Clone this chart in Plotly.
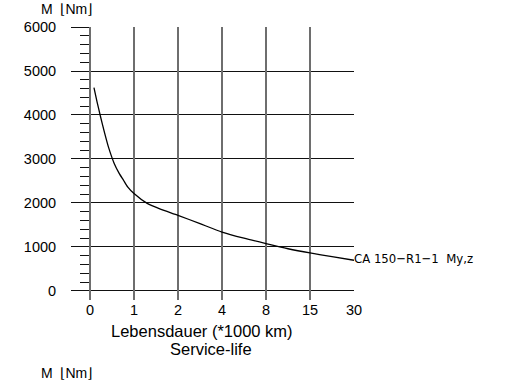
import plotly.graph_objects as go

# Category positions on the x axis (index) and their labels
x_tickvals = [0, 1, 2, 3, 4, 5, 6]
x_ticktext = ["0", "1", "2", "4", "8", "15", "30"]
y_major = [0, 1000, 2000, 3000, 4000, 5000, 6000]
y_small_ticks = list(range(0, 6001, 200))
y_small_text = [str(v) if v % 1000 == 0 else "" for v in y_small_ticks]

# Curve (x in axis index units, y in Nm)
curve_x = [0.09, 0.16, 0.23, 0.33, 0.42, 0.55, 0.66, 0.76, 0.86, 1.0, 1.3, 1.6,
           2.0, 2.5, 3.0, 3.5, 4.0, 4.5, 5.0, 5.5, 6.0]
curve_y = [4620, 4300, 4000, 3600, 3270, 2900, 2680, 2520, 2360, 2214, 1990, 1860,
           1720, 1530, 1340, 1200, 1077, 960, 864, 780, 698]

series_label = "CA 150−R1−1  My,z"
unit_label = "M  ⌊Nm⌋"
x_title_1 = "Lebensdauer (*1000 km)"
x_title_2 = "Service-life"

FONT = "Liberation Sans, Arial, sans-serif"

fig = go.Figure()
fig.add_trace(go.Scatter(
    x=curve_x, y=curve_y, mode="lines",
    line=dict(color="black", width=1.3, shape="spline", smoothing=0.6),
    hoverinfo="skip", showlegend=False,
))

fig.update_layout(
    width=513, height=387,
    margin=dict(l=72, r=159, t=27, b=87.3, pad=0),
    paper_bgcolor="white", plot_bgcolor="white",
    font=dict(family=FONT, size=14, color="black"),
    showlegend=False,
)

fig.update_xaxes(
    range=[-0.409, 6],
    tickmode="array", tickvals=x_tickvals, ticktext=x_ticktext,
    showgrid=True, gridcolor="#6e6e6e", gridwidth=2,
    zeroline=False, showline=False, ticks="",
    tickfont=dict(size=14.5), ticklabelstandoff=-1,
)

fig.update_yaxes(
    range=[-205, 6000],
    tickmode="array", tickvals=y_small_ticks, ticktext=y_small_text,
    showgrid=False,
    zeroline=False,
    anchor="free", position=18 / 282,
    showline=True, linecolor="#6e6e6e", linewidth=2,
    ticks="outside", ticklen=9, tickcolor="#111111", tickwidth=1,
    minor=dict(tickmode="array", tickvals=y_major, ticks="outside", ticklen=18,
               tickcolor="#111111", tickwidth=1,
               showgrid=True, gridcolor="#111111", gridwidth=1),
    tickfont=dict(size=14.5), ticklabelstandoff=21,
)

fig.add_annotation(x=6, y=curve_y[-1], xref="x", yref="y", text=series_label,
                   showarrow=False, xanchor="left", yanchor="middle", xshift=-2, yshift=2,
                   font=dict(family="DejaVu Sans Condensed, DejaVu Sans", size=13, color="black"))

fig.add_annotation(x=(201.5 - 72) / 282, y=(299.7 - 331) / 272.7, xref="paper", yref="paper",
                   text=x_title_1, showarrow=False, xanchor="center", yanchor="middle",
                   font=dict(size=16.5))
fig.add_annotation(x=(210.5 - 72) / 282, y=(299.7 - 348.7) / 272.7, xref="paper", yref="paper",
                   text=x_title_2, showarrow=False, xanchor="center", yanchor="middle",
                   font=dict(size=16.5))

fig.add_annotation(x=(39 - 72) / 282, y=(299.7 - 9) / 272.7, xref="paper", yref="paper",
                   text=unit_label, showarrow=False, xanchor="left", yanchor="middle",
                   font=dict(size=14))
fig.add_annotation(x=(39 - 72) / 282, y=(299.7 - 373) / 272.7, xref="paper", yref="paper",
                   text=unit_label, showarrow=False, xanchor="left", yanchor="middle",
                   font=dict(size=14))

fig.write_html("out.html")
